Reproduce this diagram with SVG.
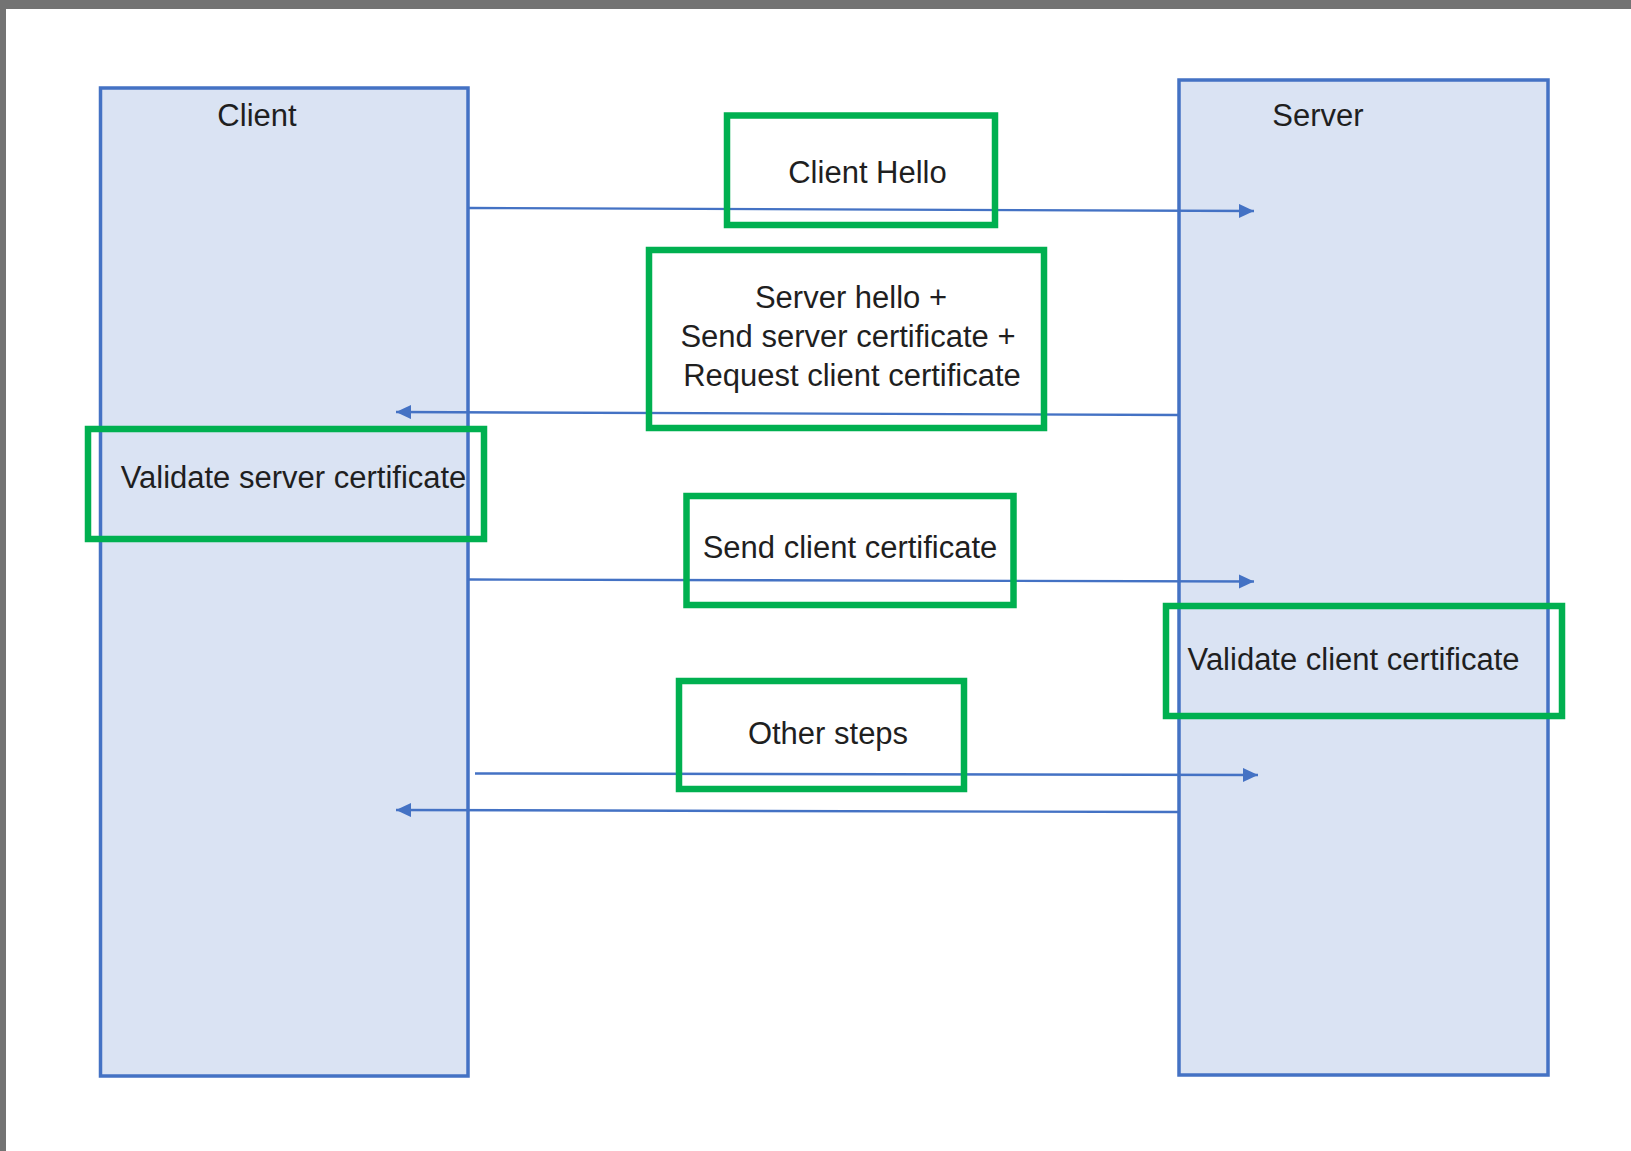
<svg xmlns="http://www.w3.org/2000/svg" width="1631" height="1151" viewBox="0 0 1631 1151">
  <style>
    .lifeline { fill: #DAE3F3; stroke: #4472C4; stroke-width: 3.5; }
    .step { fill: none; stroke: #00B050; stroke-width: 6.5; }
    .msg { fill: none; stroke: #4472C4; stroke-width: 2.4; }
    .lbl { font-family: "Liberation Sans", Arial, sans-serif; font-size: 31px; fill: #1f1f1f; text-anchor: middle; }
  </style>
  <defs>
    <marker id="arrow" markerUnits="userSpaceOnUse" markerWidth="17" markerHeight="16" refX="15" refY="7" orient="auto">
      <path d="M0,0 L15,7 L0,14 Z" fill="#4472C4"/>
    </marker>
  </defs>

  <rect x="0" y="0" width="1631" height="1151" fill="#737373"/>
  <rect x="6" y="9" width="1625" height="1142" fill="#FFFFFF"/>

  <g id="client">
    <rect class="lifeline" x="100.5" y="88" width="367.5" height="988"/>
    <text class="lbl" x="257" y="126">Client</text>
  </g>
  <g id="server">
    <rect class="lifeline" x="1179" y="80" width="369" height="995"/>
    <text class="lbl" x="1318" y="126">Server</text>
  </g>

  <g id="connectors">
    <line class="msg" x1="469" y1="208" x2="1254" y2="211" marker-end="url(#arrow)"/>
    <line class="msg" x1="1179" y1="415" x2="396" y2="412" marker-end="url(#arrow)"/>
    <line class="msg" x1="469" y1="579.5" x2="1254" y2="581.5" marker-end="url(#arrow)"/>
    <line class="msg" x1="475" y1="773.5" x2="1258" y2="775" marker-end="url(#arrow)"/>
    <line class="msg" x1="1179" y1="812" x2="396" y2="810" marker-end="url(#arrow)"/>
  </g>

  <g id="client-hello">
    <rect class="step" x="727" y="115.5" width="268" height="109.5"/>
    <text class="lbl" x="867.5" y="183">Client Hello</text>
  </g>
  <g id="server-hello">
    <rect class="step" x="649" y="250" width="395" height="178"/>
    <text class="lbl" x="851" y="307.5">Server hello +</text>
    <text class="lbl" x="848" y="346.5">Send server certificate +</text>
    <text class="lbl" x="852" y="386">Request client certificate</text>
  </g>
  <g id="validate-server-cert">
    <rect class="step" x="88" y="429" width="396" height="110"/>
    <text class="lbl" x="293.5" y="487.5">Validate server certificate</text>
  </g>
  <g id="send-client-cert">
    <rect class="step" x="686.5" y="496" width="327" height="109"/>
    <text class="lbl" x="850" y="558">Send client certificate</text>
  </g>
  <g id="validate-client-cert">
    <rect class="step" x="1166" y="606" width="396" height="110"/>
    <text class="lbl" x="1353.5" y="669.5">Validate client certificate</text>
  </g>
  <g id="other-steps">
    <rect class="step" x="679" y="681" width="285" height="108"/>
    <text class="lbl" x="828" y="744">Other steps</text>
  </g>
</svg>
